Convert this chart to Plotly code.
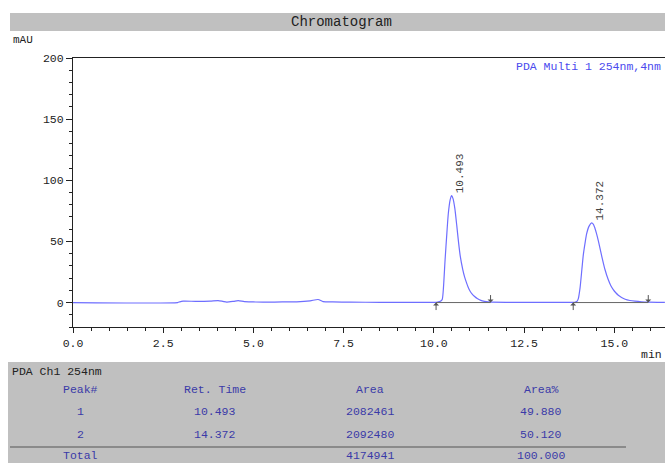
import plotly.graph_objects as go

# ---------------- data ----------------
time_min = [0.0, 2.90, 2.96, 3.05, 3.40, 3.80, 4.02, 4.15, 4.26, 4.45, 4.58, 4.75, 5.00,
            5.37, 5.80, 6.20, 6.57, 6.79, 6.93, 7.20, 7.68, 8.50, 9.50, 10.00, 10.10,
            10.18, 10.23, 10.26, 10.31, 10.36, 10.40, 10.45, 10.49, 10.53, 10.58, 10.63,
            10.68, 10.73, 10.80, 10.85, 10.90, 10.95, 11.00, 11.05, 11.12, 11.20, 11.30,
            11.40, 11.50, 11.60, 12.00, 12.50, 13.00, 13.50, 13.90, 13.96, 14.00, 14.05,
            14.10, 14.14, 14.19, 14.23, 14.30, 14.37, 14.42, 14.46, 14.51, 14.56, 14.65,
            14.74, 14.83, 14.90, 14.97, 15.04, 15.11, 15.20, 15.30, 15.43, 15.57, 15.75,
            15.94, 16.20, 16.40]
signal_mau = [0.0, 0.0, 0.6, 1.1, 1.0, 1.2, 1.6, 1.0, 0.4, 1.0, 1.6, 0.7, 0.5,
              0.3, 0.5, 0.6, 1.4, 2.5, 0.8, 0.5, 0.3, 0.2, 0.2, 0.2, 0.4,
              1.0, 2.5, 10.0, 35.0, 57.0, 73.0, 84.0, 87.5, 85.0, 77.0, 64.0,
              50.0, 38.0, 27.0, 21.0, 16.5, 12.5, 9.5, 7.3, 5.2, 3.3, 1.8,
              1.0, 0.5, 0.3, 0.2, 0.2, 0.2, 0.2, 0.2, 0.8, 3.0, 12.0,
              27.0, 39.0, 49.0, 56.0, 62.5, 65.2, 64.0, 61.0, 56.0, 50.0, 38.0,
              27.0, 18.8, 14.0, 10.6, 8.0, 6.0, 4.2, 2.7, 1.7, 1.1, 0.6,
              0.3, 0.2, 0.2]

peak_ids = ["1", "2"]
ret_times = [10.493, 14.372]
peak_heights = [87.5, 65.2]
peak_starts = [10.06, 13.86]
peak_ends = [11.57, 15.94]
areas = ["2082461", "2092480"]
area_pct = ["49.880", "50.120"]
total_area = "4174941"
total_pct = "100.000"

x_ticks = [0.0, 2.5, 5.0, 7.5, 10.0, 12.5, 15.0]
y_ticks = [0, 50, 100, 150, 200]

# ---------------- layout helpers ----------------
W, H = 665, 463
L, R, T, B = 73, 665, 58, 327
FONT = "Liberation Mono"


def px(xp):
    return (xp - L) / (R - L)


def py(yp):
    return (B - yp) / (B - T)


fig = go.Figure()

fig.add_trace(go.Scatter(x=time_min, y=signal_mau, mode="lines",
                         line=dict(color="#6e6eff", width=1.2, shape="spline", smoothing=0.6),
                         hoverinfo="skip", showlegend=False))

for s, e in zip(peak_starts, peak_ends):
    fig.add_trace(go.Scatter(x=[s, e], y=[0, 0], mode="lines",
                             line=dict(color="#666666", width=1),
                             hoverinfo="skip", showlegend=False))

annotations = []
# peak labels
for rt, h in zip(ret_times, peak_heights):
    annotations.append(dict(x=rt, y=h, xref="x", yref="y", text=f"{rt:.3f}",
                            textangle=-90, showarrow=False, xanchor="center",
                            yanchor="middle", xshift=8, yshift=22,
                            font=dict(family=FONT, size=11, color="#444444")))
# integration arrows
for s, e in zip(peak_starts, peak_ends):
    annotations.append(dict(x=s, y=0, xref="x", yref="y", text="", showarrow=True,
                            ax=0, ay=9, arrowhead=1, arrowsize=1, arrowwidth=1,
                            arrowcolor="#555555"))
    annotations.append(dict(x=e, y=0, xref="x", yref="y", text="", showarrow=True,
                            ax=0, ay=-9, arrowhead=1, arrowsize=1, arrowwidth=1,
                            arrowcolor="#555555"))

# titles / labels
annotations += [
    dict(x=px(341), y=py(22), xref="paper", yref="paper", text="Chromatogram",
         showarrow=False, xanchor="center", yanchor="middle",
         font=dict(family=FONT, size=14, color="#222222")),
    dict(x=px(11), y=py(40), xref="paper", yref="paper", text="mAU",
         showarrow=False, xanchor="left", yanchor="middle",
         font=dict(family=FONT, size=11, color="#222222")),
    dict(x=px(663), y=py(66), xref="paper", yref="paper", text="PDA Multi 1 254nm,4nm",
         showarrow=False, xanchor="right", yanchor="middle",
         font=dict(family=FONT, size=11.5, color="#4a4aee")),
    dict(x=px(664), y=py(355), xref="paper", yref="paper", text="min",
         showarrow=False, xanchor="right", yanchor="middle",
         font=dict(family=FONT, size=11.5, color="#222222")),
    dict(x=px(10), y=py(371), xref="paper", yref="paper", text="PDA Ch1 254nm",
         showarrow=False, xanchor="left", yanchor="middle",
         font=dict(family=FONT, size=11.5, color="#222222")),
]

# table
col_x = [80, 215, 370, 541]
headers = ["Peak#", "Ret. Time", "Area", "Area%"]
rows = [headers] + [[pid, f"{rt:.3f}", a, p] for pid, rt, a, p in
                    zip(peak_ids, ret_times, areas, area_pct)] + [["Total", "", total_area, total_pct]]
row_y = [389, 411, 434, 455]
tcol = "#3a3aa8"
for ry, row in zip(row_y, rows):
    for cx, txt in zip(col_x, row):
        if txt == "":
            continue
        annotations.append(dict(x=px(cx), y=py(ry), xref="paper", yref="paper", text=txt,
                                showarrow=False, xanchor="center", yanchor="middle",
                                font=dict(family=FONT, size=11.5, color=tcol)))

shapes = [
    dict(type="rect", xref="paper", yref="paper", x0=px(10), x1=px(700), y0=py(31), y1=py(13),
         fillcolor="#c0c0c0", line=dict(width=0), layer="below"),
    dict(type="rect", xref="paper", yref="paper", x0=px(8), x1=px(700), y0=py(470), y1=py(362),
         fillcolor="#c0c0c0", line=dict(width=0), layer="below"),
    dict(type="line", xref="paper", yref="paper", x0=px(10), x1=px(626), y0=py(447), y1=py(447),
         line=dict(color="#555555", width=1)),
]

fig.update_layout(
    width=W, height=H,
    margin=dict(l=L, r=W - R, t=T, b=H - B),
    paper_bgcolor="white", plot_bgcolor="white",
    showlegend=False,
    annotations=annotations, shapes=shapes,
    font=dict(family=FONT, size=11.5, color="#222222"),
    xaxis=dict(range=[0, (R - L) / 36.09], tickvals=x_ticks,
               ticktext=[f"{v:.1f}" for v in x_ticks],
               showgrid=False, zeroline=False, showline=True, linecolor="#222222",
               linewidth=1, mirror=True, ticks="outside", ticklen=5, tickcolor="#222222",
               minor=dict(dtick=0.5, tick0=0, ticks="outside", ticklen=3, tickcolor="#222222"),
               tickfont=dict(family=FONT, size=11.5, color="#222222")),
    yaxis=dict(range=[-20, 200], tickvals=y_ticks,
               showgrid=False, zeroline=False, showline=True, linecolor="#222222",
               linewidth=1, ticks="outside", ticklen=6, tickcolor="#222222",
               minor=dict(dtick=10, tick0=0, ticks="outside", ticklen=3, tickcolor="#222222"),
               tickfont=dict(family=FONT, size=11.5, color="#222222")),
)

fig.write_html("out.html")
